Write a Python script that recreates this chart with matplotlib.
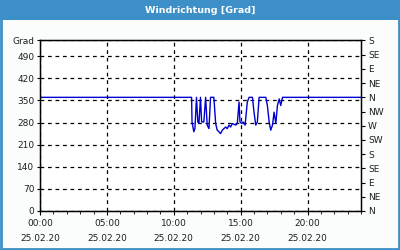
import datetime as dt

import matplotlib
matplotlib.use("Agg")
import matplotlib.dates as mdates
import matplotlib.pyplot as plt
from matplotlib.patches import Rectangle
from matplotlib.ticker import FixedLocator

# Wind direction samples on 25.02.20 (time of day, degrees)
times = ["00:00", "11:20", "11:22", "11:30", "11:35", "11:42", "11:48", "11:53",
         "12:00", "12:05", "12:15", "12:23", "12:30", "12:38", "12:45", "13:00",
         "13:08", "13:15", "13:23", "13:30", "13:38", "13:45", "13:53", "14:00",
         "14:08", "14:15", "14:23", "14:38", "14:45", "14:53", "14:57", "15:05",
         "15:11", "15:20", "15:30", "15:38", "15:53", "16:00", "16:08", "16:15",
         "16:23", "16:53", "17:00", "17:08", "17:15", "17:23", "17:30", "17:38",
         "17:45", "17:53", "18:00", "18:08", "23:59"]
direction = [360, 360, 282, 251, 261, 360, 282, 277,
             360, 282, 282, 360, 272, 261, 360, 360,
             277, 256, 251, 245, 256, 261, 266, 261,
             272, 266, 277, 272, 277, 345, 282, 277,
             282, 272, 345, 360, 360, 313, 272, 282,
             360, 360, 334, 282, 256, 272, 313, 277,
             334, 355, 334, 360, 360]

label_hours = [0, 5, 10, 15, 20]
left_ticks = [0, 70, 140, 210, 280, 350, 420, 490, 540]
left_labels = ["0", "70", "140", "210", "280", "350", "420", "490", "Grad"]
compass = ["N", "NE", "E", "SE", "S", "SW", "W", "NW", "N", "NE", "E", "SE", "S"]

BAR = "#3c8fc7"
TEXT = "#1e1e1e"

day = dt.datetime(2020, 2, 25)
x = [day + dt.timedelta(hours=int(t[:2]), minutes=int(t[3:])) for t in times]

fig = plt.figure(figsize=(4, 2.5), dpi=100)
fig.patch.set_facecolor("#fbfdfd")

# title bar and blue frame
fig.patches.append(Rectangle((0, 1 - 20 / 250), 1, 20 / 250, transform=fig.transFigure,
                             facecolor=BAR, edgecolor="none", zorder=0))
fig.patches.append(Rectangle((0.002, 0.004), 0.996, 0.994, transform=fig.transFigure,
                             facecolor="none", edgecolor=BAR, lw=2, zorder=5))
fig.text(0.5, 1 - 10.5 / 250, "Windrichtung [Grad]", color="white", fontsize=6.8,
         fontweight="bold", ha="center", va="center")

ax = fig.add_axes([40 / 400, 1 - 211 / 250, 321 / 400, 170.5 / 250])
ax.set_facecolor("white")
ax.plot(x, direction, color="#0000d0", lw=1.0, zorder=3)

ax.set_xlim(day, day + dt.timedelta(days=1))
ax.set_ylim(0, 540)
ax.xaxis.set_major_locator(FixedLocator(
    [mdates.date2num(day + dt.timedelta(hours=h)) for h in label_hours]))
ax.xaxis.set_minor_locator(mdates.HourLocator())
ax.xaxis.set_major_formatter(mdates.DateFormatter("%H:%M\n%d.%m.%y"))
ax.set_yticks(left_ticks)
ax.set_yticklabels(left_labels)
ax.grid(True, color="black", ls=(0, (3, 3)), lw=0.9)

for lab in ax.get_xticklabels():
    lab.set_linespacing(1.85)
ax.tick_params(axis="x", which="major", length=3, pad=3, labelsize=6.5, colors=TEXT,
               color="black")
ax.tick_params(axis="x", which="minor", length=2, color="black")
ax.tick_params(axis="y", length=2, pad=2, labelsize=6.5, colors=TEXT, color="black")
for s in ax.spines.values():
    s.set_color("black")
    s.set_linewidth(1.0)

ax2 = ax.twinx()
ax2.set_ylim(0, 540)
ax2.set_yticks(range(0, 541, 45))
ax2.set_yticklabels(compass)
ax2.tick_params(axis="y", length=3, pad=2, labelsize=6.5, colors=TEXT, color="black")
for s in ax2.spines.values():
    s.set_color("black")

fig.savefig("out.png", dpi=100, facecolor=fig.get_facecolor())
